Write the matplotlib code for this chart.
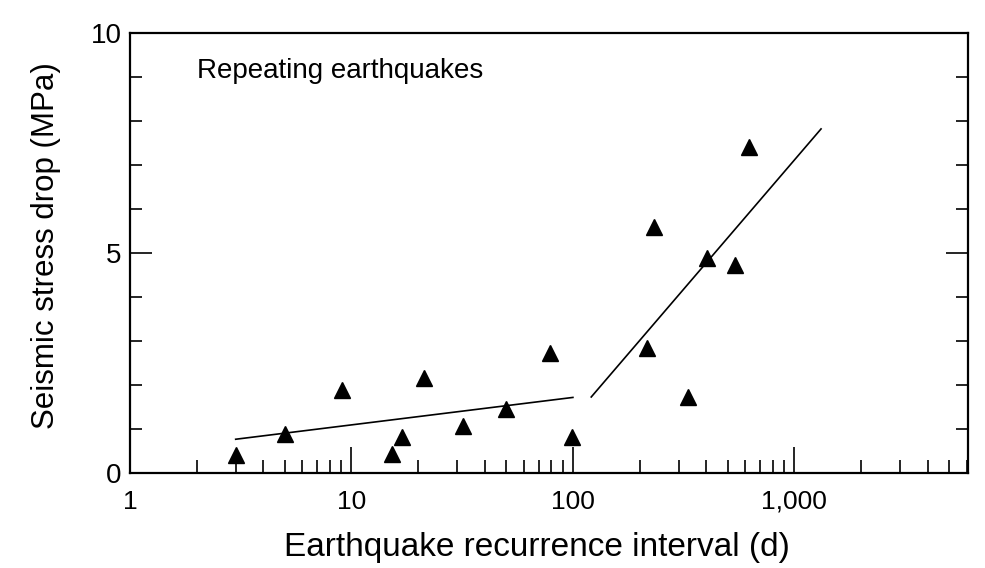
import numpy as np
import matplotlib
matplotlib.use("Agg")
import matplotlib.pyplot as plt
from matplotlib.ticker import FixedLocator, FixedFormatter

plt.rcParams['font.family'] = ['Liberation Sans', 'DejaVu Sans']

# repeating earthquakes: recurrence interval (days) vs stress drop (MPa)
interval = [3.0, 5.0, 9.1, 15.3, 17, 21.2, 32, 50, 79, 99, 216, 233, 331, 404, 540, 625]
stress = [0.42, 0.9, 1.9, 0.43, 0.82, 2.16, 1.07, 1.45, 2.73, 0.82, 2.84, 5.6, 1.73, 4.89, 4.73, 7.4]

# two fitted trend lines
fit1_x = [3, 100]
fit1_y = [0.77, 1.72]
fit2_x = [121, 1320]
fit2_y = [1.73, 7.82]

xticks = [1, 10, 100, 1000]
xlabels = ["1", "10", "100", "1,000"]
yticks = [0, 5, 10]

fig = plt.figure(figsize=(9.85, 5.68), dpi=100)
ax = fig.add_axes([0.132, 0.167, 0.851, 0.775])

ax.plot(interval, stress, linestyle="none", marker="^", color="black", markersize=12)
ax.plot(fit1_x, fit1_y, color="black", lw=1.2)
ax.plot(fit2_x, fit2_y, color="black", lw=1.2)

ax.set_xscale("log")
ax.set_xlim(1, 6100)
ax.set_ylim(0, 10)

minors = [m * d for d in [1, 10, 100, 1000] for m in range(2, 10) if m * d < 6100]
ax.xaxis.set_major_locator(FixedLocator(xticks))
ax.xaxis.set_major_formatter(FixedFormatter(xlabels))
ax.xaxis.set_minor_locator(FixedLocator(minors))
ax.xaxis.set_minor_formatter(FixedFormatter([]))
ax.yaxis.set_major_locator(FixedLocator(yticks))
ax.yaxis.set_minor_locator(FixedLocator([1, 2, 3, 4, 6, 7, 8, 9]))

ax.tick_params(axis="x", which="major", direction="in", length=19, width=1.2,
               labelsize=19, pad=12)
ax.tick_params(axis="x", which="minor", direction="in", length=9.5, width=1.2)
ax.tick_params(axis="y", which="major", direction="in", length=16, width=1.2,
               labelsize=20, right=True, pad=6)
ax.tick_params(axis="y", which="minor", direction="in", length=8.5, width=1.2, right=True)

for s in ax.spines.values():
    s.set_linewidth(1.6)

ax.set_xlabel("Earthquake recurrence interval (d)", fontsize=24)
ax.xaxis.set_label_coords(0.486, -0.134)
ax.set_ylabel("Seismic stress drop (MPa)", fontsize=22.5)
ax.yaxis.set_label_coords(-0.082, 0.518)
ax.text(0.08, 0.913, "Repeating earthquakes", transform=ax.transAxes,
        fontsize=20, va="center", ha="left")

fig.savefig("out.png", dpi=100)
